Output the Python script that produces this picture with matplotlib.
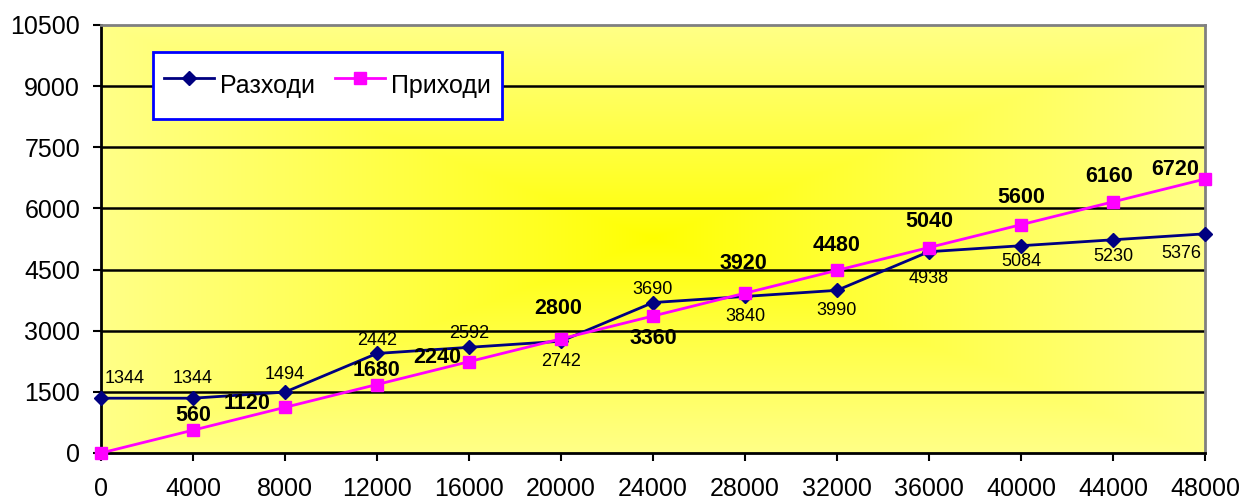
import numpy as np
import matplotlib.pyplot as plt

plt.rcParams['font.family'] = ['Liberation Sans', 'DejaVu Sans']

# sales volume on x, costs and revenue on y
x_vals   = [0, 4000, 8000, 12000, 16000, 20000, 24000, 28000, 32000, 36000, 40000, 44000, 48000]
razhodi  = [1344, 1344, 1494, 2442, 2592, 2742, 3690, 3840, 3990, 4938, 5084, 5230, 5376]
prihodi  = [0, 560, 1120, 1680, 2240, 2800, 3360, 3920, 4480, 5040, 5600, 6160, 6720]
y_ticks  = [0, 1500, 3000, 4500, 6000, 7500, 9000, 10500]

# label offsets in pixels (dx, dy)
raz_off = [(24, 20), (0, 20), (0, 18), (0, 13), (0, 14), (0, -20), (0, 13),
           (0, -20), (0, -20), (0, -27), (0, -16), (0, -17), (-24, -20)]
pri_off = [None, (0, 15), (-38, 4), (0, 14), (-32, 4), (-3, 30), (0, -22),
           (-2, 30), (0, 25), (0, 26), (0, 27), (-4, 25), (-30, 10)]

fig = plt.figure(figsize=(12.44, 4.99), dpi=100)
ax = fig.add_axes([0.0812, 0.0922, 0.8874, 0.8578])

# rectangular "from center" gradient background
n = 400
u = np.linspace(-1, 1, n)
U, V = np.meshgrid(u, u)
d = np.maximum(np.abs(U), np.abs(V))
d = np.clip(d, 0, 1) ** 0.9
edge = np.array([255, 255, 135]) / 255.0
centre = np.array([255, 255, 0]) / 255.0
img = centre[None, None, :] + d[:, :, None] * (edge - centre)[None, None, :]
ax.imshow(img, extent=[0, 48000, 0, 10500], aspect='auto', zorder=0, interpolation='bilinear')

ax.set_xlim(0, 48000)
ax.set_ylim(0, 10500)
ax.set_xticks(x_vals)
ax.set_yticks(y_ticks)
ax.tick_params(labelsize=18, length=6, width=1.5, color='black')
ax.tick_params(axis='x', pad=11)
ax.tick_params(axis='y', pad=9)

for yv in y_ticks[1:-1]:
    ax.axhline(yv, color='black', lw=1.8, zorder=1)

for side in ['top', 'right']:
    ax.spines[side].set_color('#808080')
    ax.spines[side].set_linewidth(2)
for side in ['left', 'bottom']:
    ax.spines[side].set_color('black')
    ax.spines[side].set_linewidth(2)

ax.plot(x_vals, razhodi, color='#000080', lw=2, marker='D', ms=7,
        label='Разходи', zorder=3, clip_on=False)
ax.plot(x_vals, prihodi, color='#FF00FF', lw=2, marker='s', ms=9,
        label='Приходи', zorder=4, clip_on=False)

for xv, yv, off in zip(x_vals, razhodi, raz_off):
    ax.annotate(str(yv), (xv, yv), xytext=(off[0], off[1]), textcoords='offset pixels',
                ha='center', va='center', fontsize=13, zorder=5)
for xv, yv, off in zip(x_vals, prihodi, pri_off):
    if off is None:
        continue
    ax.annotate(str(yv), (xv, yv), xytext=(off[0], off[1]), textcoords='offset pixels',
                ha='center', va='center', fontsize=15.5, fontweight='bold', zorder=5)

leg = ax.legend(loc='upper left', bbox_to_anchor=(0.047, 0.937), borderaxespad=0,
                ncol=2, fontsize=18, fancybox=False, framealpha=1,
                handlelength=2.0, handleheight=2.35, handletextpad=0.24,
                columnspacing=0.8, borderpad=0.45)
leg.get_frame().set_edgecolor('#0000FF')
leg.get_frame().set_linewidth(2)

fig.savefig('out.png', dpi=100)
